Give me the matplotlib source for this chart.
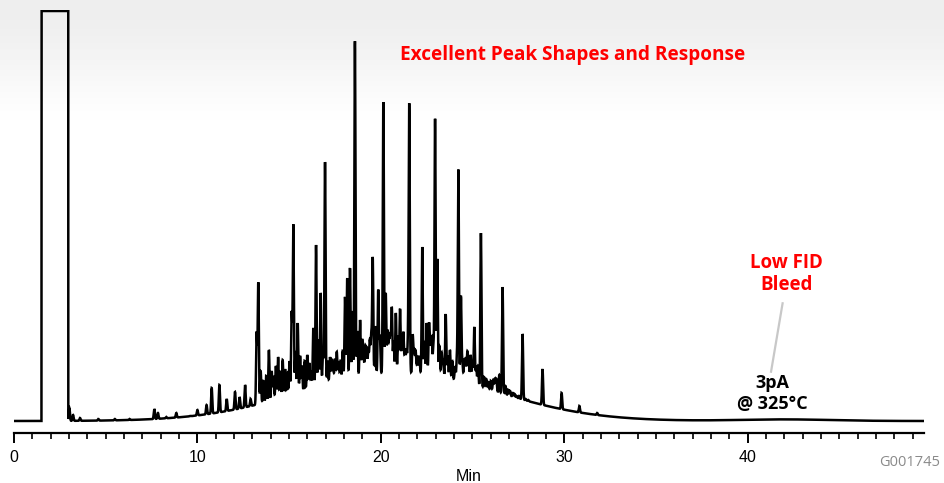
import numpy as np
import matplotlib
matplotlib.use("Agg")
import matplotlib.pyplot as plt
from matplotlib.ticker import MultipleLocator

# === Data (signal in arbitrary detector units) ===
solvent_start = 1.5    # min
solvent_end = 2.96     # min
saturation = 410       # detector full scale (flat top of solvent peak)

# unresolved hump: centre (min), height, sigma (min)
hump_centers = [21.0, 42.0]
hump_heights = [48.0, 1.6]
hump_sigmas = [5.3, 2.5]

# resolved peaks: retention time (min) and total height above baseline
peak_times = [
    3.02, 3.22, 3.6, 4.6, 5.5, 6.3, 7.65, 7.85, 8.3, 8.85, 9.6,
    10.0, 10.5, 10.78, 11.2, 11.6, 12.05, 12.3, 12.6, 12.9, 13.23,
    13.32, 13.45, 13.6, 13.75, 13.9, 14.05, 14.15, 14.28, 14.4, 14.52,
    14.65, 14.78, 14.9, 15.02, 15.14, 15.23, 15.35, 15.47, 15.6, 15.7,
    15.85, 15.99, 16.1, 16.2, 16.32, 16.47, 16.6, 16.72, 16.85, 16.96,
    17.1, 17.23, 17.33, 17.4, 17.5, 17.6, 17.7, 17.8, 17.92, 18.05,
    18.17, 18.32, 18.45, 18.59, 18.72, 18.87, 18.98, 19.05, 19.15, 19.23,
    19.32, 19.4, 19.48, 19.56, 19.7, 19.86, 19.95, 20.14, 20.27, 20.37,
    20.45, 20.52, 20.6, 20.7, 20.82, 20.95, 21.05, 21.15, 21.23, 21.32,
    21.4, 21.48, 21.55, 21.74, 21.82, 21.9, 22.0, 22.1, 22.26, 22.38,
    22.5, 22.63, 22.7, 22.78, 22.87, 22.96, 23.08, 23.2, 23.32, 23.4,
    23.54, 23.65, 23.77, 23.9, 24.05, 24.15, 24.23, 24.37, 24.45, 24.55,
    24.63, 24.72, 24.8, 24.9, 25.0, 25.1, 25.2, 25.3, 25.46, 25.63,
    25.75, 25.86, 26.0, 26.13, 26.22, 26.3, 26.46, 26.64, 26.8, 26.95,
    27.05, 27.2, 27.3, 27.41, 27.55, 27.73, 27.9, 28.04, 28.2, 28.4,
    28.6, 28.82, 29.31, 29.86, 30.3, 30.83, 31.8, 32.77,
]
peak_heights = [
    13, 6, 3, 2, 2, 2, 12, 8, 4, 8, 5,
    11, 16, 33, 36, 22, 29, 24, 36, 22, 88,
    138, 50, 40, 45, 71, 50, 45, 55, 64, 50,
    61, 52, 48, 60, 108, 196, 70, 98, 65, 55,
    60, 66, 58, 50, 93, 176, 80, 128, 70, 259,
    60, 64, 60, 55, 62, 69, 58, 60, 70, 124,
    143, 153, 110, 380, 90, 101, 80, 70, 75, 73,
    70, 80, 85, 163, 95, 131, 85, 319, 128, 90,
    80, 85, 113, 80, 108, 85, 112, 80, 88, 70,
    70, 75, 316, 86, 70, 70, 64, 65, 174, 80,
    98, 96, 80, 83, 75, 302, 162, 75, 68, 60,
    107, 65, 71, 60, 54, 62, 251, 124, 58, 60,
    62, 69, 58, 66, 60, 94, 55, 55, 188, 44,
    42, 39, 40, 41, 42, 42, 46, 134, 35, 31,
    30, 28, 27, 25, 25, 87, 22, 21, 18, 16,
    15, 52, 10, 28, 8, 15, 8, 4,
]

x_ticks_major = [0, 10, 20, 30, 40]
x_max = 49.62

# === Build trace ===
PEAK_SIGMA = 0.03
t = np.arange(0, x_max, 0.003)


def hump(tt):
    out = np.zeros_like(np.asarray(tt, dtype=float))
    for c, h, s in zip(hump_centers, hump_heights, hump_sigmas):
        out = out + h * np.exp(-0.5 * ((tt - c) / s) ** 2)
    return out


signal = hump(t)
for rt, h in zip(peak_times, peak_heights):
    amp = max(h - hump(np.array([rt]))[0], 0)
    signal = signal + amp * np.exp(-0.5 * ((t - rt) / PEAK_SIGMA) ** 2)
signal = np.where((t >= solvent_start) & (t <= solvent_end), saturation, signal)
signal = np.minimum(signal, saturation)

# === Plot ===
W, H = 944, 483
fig = plt.figure(figsize=(W / 100, H / 100), dpi=100)

# grey fade at the top of the slide
bg = fig.add_axes([0, 0, 1, 1], zorder=0)
fade = np.clip(np.arange(H) / 140.0, 0, 1)
fade = fade * fade * (3 - 2 * fade)
grad = np.repeat((0.93 + 0.07 * fade)[:, None], 2, axis=1)
bg.imshow(grad, cmap="gray", vmin=0, vmax=1, aspect="auto", extent=[0, 1, 1, 0])
bg.set_axis_off()

left = 14 / W
right = 924 / W
bottom = (H - 433) / H
top = (H - 10) / H
ax = fig.add_axes([left, bottom, right - left, top - bottom], zorder=1)
ax.patch.set_alpha(0)

ax.plot(t, signal, color="black", lw=1.8, solid_joinstyle="miter")

ax.set_xlim(0, x_max)
ax.set_ylim(-12, 411)

for s in ["left", "right", "top"]:
    ax.spines[s].set_visible(False)
ax.spines["bottom"].set_linewidth(1.6)
ax.set_yticks([])
ax.set_xticks(x_ticks_major)
ax.xaxis.set_minor_locator(MultipleLocator(1))
ax.tick_params(axis="x", which="major", length=7, width=1.4, pad=5)
ax.tick_params(axis="x", which="minor", length=4, width=1.2)

tick_font = ["Liberation Sans Narrow", "Liberation Sans"]
for lab in ax.get_xticklabels():
    lab.set_family(tick_font)
    lab.set_fontsize(11.5)
ax.set_xlabel("Min", family=tick_font, fontsize=11.5, labelpad=3)

# === Annotations ===
ax.text(30.48, 366, "Excellent Peak Shapes and Response", color="red",
        fontsize=13.7, fontweight="bold", family="Open Sans",
        ha="center", va="center")
ax.text(42.1, 147, "Low FID\nBleed", color="red", fontsize=13.5,
        fontweight="bold", family="Open Sans", ha="center", va="center",
        linespacing=1.2)
ax.plot([41.91, 41.28], [117.7, 49.3], color="#c8c8c8", lw=1.6)
ax.text(41.33, 27.5, "3pA\n@ 325°C", color="black", fontsize=13,
        fontweight="bold", family="Open Sans", ha="center", va="center",
        linespacing=1.15)

fig.text(940 / W, 1 - 463 / H, "G001745", color="#8a8a8a", fontsize=10.5,
         family="Open Sans", ha="right", va="center")

fig.savefig("out.png", dpi=100)
